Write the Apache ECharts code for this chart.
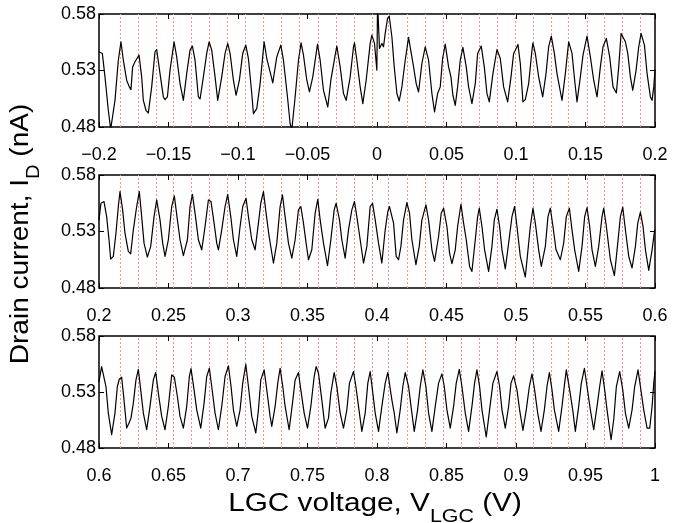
<!DOCTYPE html>
<html><head><meta charset="utf-8">
<script src="https://cdn.jsdelivr.net/npm/echarts@6/dist/echarts.min.js"></script>
<style>html,body{margin:0;padding:0;background:#fff}#c{width:683px;height:523px}</style>
</head><body><div id="c"></div>
<script>
// ---- data ----
const panelRanges = [[-0.2, 0.2], [0.2, 0.6], [0.6, 1.0]];
const xTicks1 = [-0.2, -0.15, -0.1, -0.05, 0, 0.05, 0.1, 0.15, 0.2];
const xTicks2 = [0.2, 0.25, 0.3, 0.35, 0.4, 0.45, 0.5, 0.55, 0.6];
const xTicks3 = [0.6, 0.65, 0.7, 0.75, 0.8, 0.85, 0.9, 0.95, 1.0];
const yTicks = [0.48, 0.53, 0.58];
const yRange = [0.48, 0.58];
// red dotted guide lines, offset (V) from the start of each panel
const guideOffsets = [0.0151, 0.0283, 0.0410, 0.0535, 0.0662, 0.0791, 0.0923, 0.1050, 0.1182, 0.1309,
  0.1441, 0.1573, 0.1705, 0.1835, 0.1962, 0.2081, 0.2214, 0.2345, 0.2473, 0.2602,
  0.2732, 0.2861, 0.2993, 0.3120, 0.3250, 0.3376, 0.3509, 0.3635, 0.3765, 0.3892];

const current1 = [
[-0.2000,0.5466],[-0.1993,0.5466],[-0.1976,0.5451],[-0.1957,0.5244],[-0.1933,0.4948],[-0.1916,0.4780],[-0.1902,0.4770],[-0.1885,0.5036],[-0.1861,0.5391],[-0.1842,0.5554],
[-0.1825,0.5391],[-0.1801,0.5214],[-0.1782,0.5155],[-0.1770,0.5131],[-0.1758,0.5332],[-0.1741,0.5377],[-0.1712,0.5436],
[-0.1693,0.5244],[-0.1681,0.5036],[-0.1662,0.4948],[-0.1645,0.4924],[-0.1621,0.5155],[-0.1597,0.5466],[-0.1585,0.5486],
[-0.1561,0.5273],[-0.1537,0.5066],[-0.1525,0.5042],[-0.1508,0.5066],[-0.1489,0.5303],[-0.1460,0.5554],
[-0.1441,0.5421],[-0.1417,0.5184],[-0.1393,0.5036],
[-0.1369,0.5273],[-0.1345,0.5480],[-0.1328,0.5516],
[-0.1309,0.5391],[-0.1285,0.5066],[-0.1273,0.5048],
[-0.1249,0.5244],[-0.1225,0.5451],[-0.1208,0.5554],
[-0.1189,0.5480],[-0.1165,0.5244],[-0.1146,0.5036],
[-0.1117,0.5244],[-0.1093,0.5451],[-0.1074,0.5540],
[-0.1057,0.5451],[-0.1033,0.5214],[-0.1014,0.5081],
[-0.0990,0.5214],[-0.0966,0.5451],[-0.0944,0.5525],
[-0.0925,0.5406],[-0.0901,0.5096],[-0.0889,0.4918],
[-0.0865,0.4962],[-0.0841,0.5184],[-0.0812,0.5554],
[-0.0793,0.5406],[-0.0769,0.5288],[-0.0750,0.5190],
[-0.0721,0.5421],[-0.0692,0.5525],
[-0.0673,0.5391],[-0.0644,0.5066],[-0.0625,0.4829],[-0.0613,0.4775],[-0.0601,0.4790],
[-0.0589,0.5066],[-0.0565,0.5391],[-0.0546,0.5545],
[-0.0529,0.5436],[-0.0505,0.5214],[-0.0486,0.5110],
[-0.0462,0.5244],[-0.0428,0.5533],
[-0.0409,0.5391],[-0.0385,0.5125],[-0.0354,0.4977],
[-0.0332,0.5214],[-0.0301,0.5436],[-0.0289,0.5516],
[-0.0265,0.5332],[-0.0241,0.5096],[-0.0222,0.5036],
[-0.0193,0.5244],[-0.0169,0.5510],[-0.0162,0.5545],
[-0.0145,0.5391],[-0.0121,0.5155],[-0.0102,0.5007],
[-0.0078,0.5214],[-0.0049,0.5540],[-0.0037,0.5613],
[-0.0018,0.5540],[-0.0001,0.5303],[0.0004,0.5900],
[0.0018,0.5495],[0.0035,0.5540],[0.0047,0.5510],[0.0059,0.5628],[0.0076,0.5762],[0.0088,0.5782],
[0.0107,0.5599],[0.0124,0.5332],[0.0143,0.5096],[0.0160,0.5030],
[0.0179,0.5155],[0.0203,0.5391],[0.0227,0.5593],[0.0239,0.5599],
[0.0263,0.5332],[0.0282,0.5184],[0.0299,0.5110],
[0.0323,0.5362],[0.0347,0.5510],
[0.0371,0.5391],[0.0395,0.5096],[0.0414,0.4933],
[0.0436,0.5096],[0.0455,0.5155],[0.0472,0.5406],[0.0491,0.5533],
[0.0515,0.5332],[0.0532,0.5244],[0.0546,0.5081],[0.0563,0.4992],
[0.0580,0.5155],[0.0599,0.5391],[0.0618,0.5504],
[0.0642,0.5332],[0.0659,0.5155],[0.0683,0.5007],
[0.0707,0.5184],[0.0724,0.5451],[0.0750,0.5516],
[0.0772,0.5332],[0.0791,0.5096],[0.0808,0.5022],
[0.0834,0.5273],[0.0863,0.5486],
[0.0887,0.5406],[0.0911,0.5155],[0.0940,0.5022],
[0.0964,0.5244],[0.0983,0.5451],[0.0995,0.5480],[0.1014,0.5531],
[0.1031,0.5362],[0.1050,0.5022],[0.1067,0.5042],
[0.1091,0.5184],[0.1115,0.5480],[0.1122,0.5545],
[0.1139,0.5451],[0.1163,0.5244],[0.1192,0.5066],
[0.1216,0.5273],[0.1235,0.5510],[0.1254,0.5605],
[0.1276,0.5451],[0.1295,0.5273],[0.1331,0.5036],
[0.1355,0.5273],[0.1379,0.5554],
[0.1403,0.5451],[0.1422,0.5214],[0.1439,0.5022],
[0.1463,0.5244],[0.1482,0.5436],[0.1511,0.5605],
[0.1535,0.5421],[0.1559,0.5214],[0.1583,0.5066],
[0.1607,0.5332],[0.1626,0.5510],[0.1650,0.5584],
[0.1674,0.5421],[0.1698,0.5155],[0.1722,0.5101],
[0.1739,0.5332],[0.1756,0.5628],[0.1768,0.5634],
[0.1787,0.5554],[0.1804,0.5451],[0.1823,0.5244],[0.1840,0.5125],
[0.1864,0.5303],[0.1883,0.5510],[0.1900,0.5628],
[0.1924,0.5525],[0.1943,0.5273],[0.1967,0.5066],[0.1979,0.5036],
[0.1991,0.5155],[0.2000,0.5303]
];

const current2 = [
[0.2000,0.5403],[0.2014,0.5550],[0.2036,0.5565],[0.2055,0.5432],[0.2072,0.5227],[0.2084,0.5056],
[0.2103,0.5080],[0.2122,0.5285],[0.2139,0.5521],[0.2151,0.5653],
[0.2170,0.5491],[0.2187,0.5285],[0.2211,0.5124],[0.2228,0.5103],
[0.2247,0.5315],[0.2271,0.5521],[0.2290,0.5653],
[0.2307,0.5432],[0.2324,0.5197],[0.2348,0.5074],
[0.2372,0.5168],[0.2396,0.5432],[0.2415,0.5579],
[0.2439,0.5403],[0.2458,0.5197],[0.2475,0.5080],
[0.2499,0.5227],[0.2523,0.5521],[0.2542,0.5615],
[0.2564,0.5403],[0.2583,0.5227],[0.2607,0.5086],
[0.2636,0.5227],[0.2655,0.5521],[0.2672,0.5629],
[0.2691,0.5462],[0.2715,0.5227],[0.2739,0.5138],
[0.2763,0.5344],[0.2787,0.5579],[0.2806,0.5565],
[0.2828,0.5374],[0.2847,0.5197],[0.2859,0.5138],
[0.2883,0.5315],[0.2907,0.5521],[0.2926,0.5629],
[0.2948,0.5432],[0.2967,0.5227],[0.2991,0.5080],
[0.3015,0.5344],[0.3034,0.5521],[0.3058,0.5594],
[0.3075,0.5432],[0.3099,0.5227],[0.3123,0.5138],
[0.3147,0.5374],[0.3164,0.5550],[0.3183,0.5653],
[0.3202,0.5462],[0.3224,0.5256],[0.3255,0.5021],
[0.3279,0.5197],[0.3303,0.5521],[0.3320,0.5624],
[0.3339,0.5432],[0.3363,0.5197],[0.3387,0.5065],
[0.3411,0.5227],[0.3435,0.5491],[0.3452,0.5521],
[0.3471,0.5374],[0.3490,0.5197],[0.3507,0.5050],
[0.3531,0.5138],[0.3555,0.5462],[0.3574,0.5585],
[0.3591,0.5403],[0.3615,0.5197],[0.3644,0.4997],
[0.3668,0.5227],[0.3692,0.5491],[0.3706,0.5550],
[0.3730,0.5403],[0.3747,0.5227],[0.3771,0.5065],
[0.3795,0.5315],[0.3819,0.5491],[0.3838,0.5565],
[0.3855,0.5432],[0.3879,0.5227],[0.3903,0.5021],
[0.3927,0.5168],[0.3951,0.5521],[0.3968,0.5550],
[0.3987,0.5403],[0.4011,0.5197],[0.4035,0.5021],
[0.4059,0.5315],[0.4078,0.5477],[0.4090,0.5521],[0.4102,0.5535],
[0.4119,0.5374],[0.4138,0.5080],[0.4155,0.5050],
[0.4172,0.5168],[0.4191,0.5403],[0.4215,0.5556],
[0.4234,0.5462],[0.4251,0.5227],[0.4280,0.5006],
[0.4304,0.5168],[0.4323,0.5403],[0.4352,0.5535],
[0.4371,0.5403],[0.4395,0.5138],[0.4414,0.5036],
[0.4443,0.5256],[0.4462,0.5462],[0.4479,0.5506],
[0.4503,0.5344],[0.4522,0.5109],[0.4539,0.5015],
[0.4563,0.5138],[0.4580,0.5344],[0.4604,0.5541],
[0.4623,0.5374],[0.4642,0.5227],[0.4666,0.4991],[0.4683,0.4947],
[0.4707,0.5227],[0.4724,0.5432],[0.4736,0.5506],
[0.4755,0.5344],[0.4774,0.5138],[0.4803,0.4947],
[0.4827,0.5168],[0.4844,0.5403],[0.4863,0.5497],
[0.4882,0.5344],[0.4899,0.5138],[0.4923,0.4968],
[0.4947,0.5197],[0.4971,0.5432],[0.4990,0.5521],
[0.5007,0.5344],[0.5031,0.5080],[0.5067,0.4897],
[0.5084,0.5109],[0.5103,0.5344],[0.5122,0.5506],
[0.5139,0.5374],[0.5163,0.5138],[0.5182,0.4991],
[0.5211,0.5168],[0.5230,0.5432],[0.5247,0.5506],
[0.5266,0.5344],[0.5288,0.5138],[0.5319,0.5050],
[0.5343,0.5197],[0.5362,0.5432],[0.5384,0.5506],
[0.5403,0.5315],[0.5422,0.5138],[0.5451,0.4947],
[0.5475,0.5168],[0.5494,0.5432],[0.5511,0.5512],
[0.5530,0.5344],[0.5547,0.5138],[0.5571,0.4991],
[0.5595,0.5168],[0.5619,0.5432],[0.5631,0.5506],
[0.5650,0.5344],[0.5679,0.5050],[0.5708,0.4909],
[0.5732,0.5197],[0.5751,0.5432],[0.5768,0.5515],
[0.5787,0.5315],[0.5811,0.5080],[0.5835,0.4977],
[0.5859,0.5168],[0.5876,0.5374],[0.5895,0.5471],
[0.5914,0.5344],[0.5931,0.5138],[0.5955,0.4956],
[0.5979,0.5138],[0.5996,0.5300],[0.6000,0.5315]
];

const current3 = [
[0.6000,0.5394],[0.6019,0.5527],[0.6031,0.5512],[0.6050,0.5349],[0.6067,0.5112],[0.6091,0.4919],
[0.6115,0.5112],[0.6132,0.5349],[0.6146,0.5414],[0.6163,0.5432],
[0.6180,0.5230],[0.6199,0.4978],[0.6216,0.5023],[0.6230,0.5067],
[0.6247,0.5201],[0.6266,0.5408],[0.6283,0.5503],
[0.6300,0.5319],[0.6319,0.5112],[0.6343,0.4963],
[0.6367,0.5171],[0.6391,0.5408],[0.6408,0.5474],
[0.6427,0.5290],[0.6451,0.5082],[0.6475,0.4963],
[0.6499,0.5171],[0.6523,0.5453],[0.6542,0.5432],
[0.6564,0.5260],[0.6583,0.5082],[0.6607,0.4978],
[0.6631,0.5171],[0.6650,0.5438],[0.6662,0.5509],
[0.6684,0.5319],[0.6703,0.5141],[0.6732,0.4978],
[0.6756,0.5201],[0.6775,0.5438],[0.6794,0.5512],
[0.6811,0.5349],[0.6835,0.5112],[0.6859,0.4963],
[0.6883,0.5171],[0.6907,0.5438],[0.6931,0.5533],
[0.6950,0.5349],[0.6967,0.5141],[0.6991,0.4993],
[0.7015,0.5141],[0.7034,0.5379],[0.7056,0.5548],
[0.7075,0.5349],[0.7099,0.5082],[0.7128,0.4934],
[0.7147,0.5141],[0.7164,0.5408],[0.7188,0.5497],
[0.7207,0.5319],[0.7231,0.5082],[0.7243,0.4993],
[0.7267,0.5171],[0.7286,0.5379],[0.7303,0.5512],
[0.7322,0.5349],[0.7339,0.5171],[0.7368,0.4963],
[0.7392,0.5201],[0.7411,0.5408],[0.7435,0.5474],
[0.7452,0.5319],[0.7476,0.5112],[0.7500,0.4978],
[0.7524,0.5171],[0.7548,0.5438],[0.7562,0.5527],
[0.7579,0.5468],[0.7603,0.5230],[0.7627,0.4978],
[0.7651,0.5067],[0.7668,0.5290],[0.7692,0.5474],
[0.7711,0.5349],[0.7735,0.5112],[0.7759,0.4978],
[0.7783,0.5141],[0.7802,0.5379],[0.7831,0.5483],
[0.7848,0.5349],[0.7867,0.5171],[0.7891,0.4948],
[0.7915,0.5112],[0.7934,0.5379],[0.7951,0.5483],
[0.7970,0.5290],[0.7987,0.5112],[0.8011,0.4948],
[0.8035,0.5171],[0.8059,0.5379],[0.8078,0.5474],
[0.8107,0.5230],[0.8124,0.5112],[0.8143,0.4934],
[0.8167,0.5141],[0.8186,0.5349],[0.8203,0.5474],
[0.8227,0.5349],[0.8251,0.5112],[0.8268,0.4948],
[0.8292,0.5141],[0.8311,0.5349],[0.8330,0.5497],
[0.8352,0.5349],[0.8371,0.5112],[0.8395,0.4948],
[0.8419,0.5171],[0.8443,0.5379],[0.8467,0.5462],
[0.8484,0.5349],[0.8503,0.5141],[0.8527,0.4978],
[0.8551,0.5171],[0.8570,0.5379],[0.8592,0.5503],
[0.8611,0.5349],[0.8635,0.5112],[0.8659,0.4948],
[0.8683,0.5171],[0.8702,0.5379],[0.8719,0.5497],
[0.8738,0.5349],[0.8755,0.5141],[0.8786,0.4898],
[0.8810,0.5141],[0.8834,0.5379],[0.8863,0.5483],
[0.8882,0.5349],[0.8899,0.5141],[0.8923,0.4978],
[0.8947,0.5171],[0.8964,0.5379],[0.8983,0.5444],
[0.9007,0.5319],[0.9026,0.5141],[0.9050,0.4957],
[0.9074,0.5141],[0.9096,0.5349],[0.9115,0.5462],
[0.9134,0.5319],[0.9156,0.5112],[0.9180,0.4948],
[0.9204,0.5141],[0.9223,0.5349],[0.9240,0.5474],
[0.9259,0.5319],[0.9276,0.5141],[0.9307,0.4948],
[0.9331,0.5171],[0.9350,0.5379],[0.9362,0.5497],
[0.9386,0.5319],[0.9408,0.5141],[0.9427,0.4948],
[0.9451,0.5171],[0.9470,0.5379],[0.9492,0.5512],
[0.9511,0.5349],[0.9535,0.5141],[0.9559,0.4963],
[0.9583,0.5171],[0.9602,0.5349],[0.9619,0.5488],
[0.9638,0.5319],[0.9655,0.5141],[0.9684,0.4874],
[0.9703,0.5052],[0.9722,0.5349],[0.9746,0.5483],
[0.9768,0.5319],[0.9787,0.5112],[0.9811,0.4978],
[0.9835,0.5141],[0.9854,0.5349],[0.9878,0.5497],
[0.9895,0.5349],[0.9919,0.5141],[0.9943,0.4978],[0.9962,0.4978],
[0.9979,0.5171],[0.9991,0.5379],[1.0000,0.5483]
];

const yTitle = 'Drain current, I';
const yTitleSub = 'D';
const yTitleTail = ' (nA)';
const xTitle = 'LGC voltage, V';
const xTitleSub = 'LGC';
const xTitleTail = ' (V)';

// ---- chart ----
const FONT = '"Liberation Sans", Arial, Helvetica, sans-serif';
const grids = [
  {left: 99, top: 14, width: 556, height: 113},
  {left: 99, top: 175, width: 556, height: 113},
  {left: 99, top: 336, width: 556, height: 112}
];
const xTickSets = [xTicks1, xTicks2, xTicks3];
const seriesData = [current1, current2, current3];

const fmtX = v => String(Math.round(v * 100) / 100).replace('-', '\u2212');
const fmtY = v => v.toFixed(2);

const xAxes = [], yAxes = [], series = [];
grids.forEach((g, i) => {
  const ticks = xTickSets[i];
  const base = {
    type: 'value', gridIndex: i, min: panelRanges[i][0], max: panelRanges[i][1],
    axisLine: {show: false, onZero: false}, splitLine: {show: false}
  };
  xAxes.push(Object.assign({}, base, {
    position: 'bottom',
    axisTick: {show: true, inside: true, length: 5, customValues: ticks, lineStyle: {color: '#000', width: 1}},
    axisLabel: {show: true, customValues: ticks, formatter: fmtX, margin: 19, fontSize: 18, color: '#000', fontFamily: FONT}
  }));
  xAxes.push(Object.assign({}, base, {
    position: 'top',
    axisTick: {show: true, inside: true, length: 5, customValues: ticks, lineStyle: {color: '#000', width: 1}},
    axisLabel: {show: false}
  }));
  const ybase = {type: 'value', gridIndex: i, min: yRange[0], max: yRange[1], axisLine: {show: false, onZero: false}, splitLine: {show: false}};
  yAxes.push(Object.assign({}, ybase, {
    position: 'left',
    axisTick: {show: true, inside: true, length: 5, customValues: yTicks, lineStyle: {color: '#000', width: 1}},
    axisLabel: {show: true, customValues: yTicks, formatter: fmtY, margin: 3, fontSize: 18, color: '#000', fontFamily: FONT}
  }));
  yAxes.push(Object.assign({}, ybase, {
    position: 'right',
    axisTick: {show: true, inside: true, length: 5, customValues: yTicks, lineStyle: {color: '#000', width: 1}},
    axisLabel: {show: false}
  }));
  const start = panelRanges[i][0];
  series.push({
    type: 'custom', xAxisIndex: 2 * i, yAxisIndex: 2 * i, z: 1, silent: true, clip: true,
    data: guideOffsets.map(o => [start + o, yRange[0], yRange[1]]),
    encode: {x: 0, y: [1, 2]},
    renderItem: (params, api) => {
      const p1 = api.coord([api.value(0), api.value(1)]);
      const p2 = api.coord([api.value(0), api.value(2)]);
      const x = Math.round(p1[0]) + 0.5;
      return {
        type: 'line',
        shape: {x1: x, y1: p1[1], x2: x, y2: p2[1]},
        style: {stroke: '#ff8c8c', lineWidth: 1, lineDash: [2, 2]}
      };
    }
  });
  series.push({
    type: 'line', xAxisIndex: 2 * i, yAxisIndex: 2 * i, data: seriesData[i], z: 3,
    showSymbol: false, symbol: 'none', clip: true,
    lineStyle: {color: '#000', width: 1.2, join: 'round', cap: 'round'}
  });
});

const chart = echarts.init(document.getElementById('c'), null, {renderer: 'canvas'});
chart.setOption({
  animation: false,
  backgroundColor: '#fff',
  grid: grids.map(g => Object.assign({show: true, borderColor: '#000', borderWidth: 1.5, backgroundColor: 'transparent', containLabel: false}, g)),
  xAxis: xAxes,
  yAxis: yAxes,
  series: series,
  graphic: [
    {
      type: 'text', x: 21, y: 234, rotation: Math.PI / 2, scaleX: 1.12,
      style: {
        text: '{a|' + yTitle + '}{s|' + yTitleSub + '}{a|' + yTitleTail + '}',
        align: 'center', verticalAlign: 'middle', fill: '#000',
        rich: {
          a: {fontSize: 25, fontFamily: FONT, fill: '#000', lineHeight: 44, verticalAlign: 'middle'},
          s: {fontSize: 18, fontFamily: FONT, fill: '#000', lineHeight: 18, verticalAlign: 'bottom'}
        }
      }
    },
    {
      type: 'text', x: 375, y: 504, scaleX: 1.19,
      style: {
        text: '{a|' + xTitle + '}{s|' + xTitleSub + '}{a|' + xTitleTail + '}',
        align: 'center', verticalAlign: 'middle', fill: '#000',
        rich: {
          a: {fontSize: 25, fontFamily: FONT, fill: '#000', lineHeight: 44, verticalAlign: 'middle'},
          s: {fontSize: 18, fontFamily: FONT, fill: '#000', lineHeight: 18, verticalAlign: 'bottom'}
        }
      }
    }
  ]
});
</script>
</body></html>
